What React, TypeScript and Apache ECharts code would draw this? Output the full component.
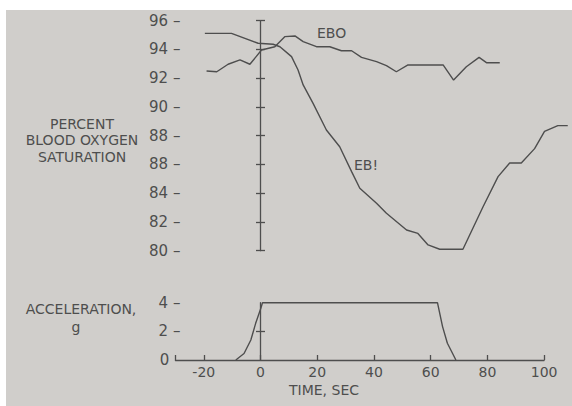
import React, { useEffect, useRef } from "react";
import * as echarts from "echarts";

// Time (sec) and percent blood-oxygen saturation, curve EBO
const eb0Time = [-19.0, -15.4, -11.4, -7.2, -3.7, 0.4, 5.1, 8.6, 12.2, 15.1, 19.8, 24.5, 28.6, 32.2, 35.7, 41.0, 44.5, 48.0, 52.1, 56.2, 64.5, 68.2, 72.7, 77.2, 79.8, 84.5];
const eb0Sat = [92.5, 92.45, 92.97, 93.27, 92.97, 93.96, 94.19, 94.89, 94.94, 94.54, 94.19, 94.19, 93.91, 93.91, 93.45, 93.15, 92.87, 92.45, 92.92, 92.92, 92.92, 91.87, 92.8, 93.45, 93.08, 93.08];

// Curve EB!
const eb1Time = [-19.6, -10.2, -0.8, 4.5, 6.9, 11.0, 13.3, 15.1, 18.6, 23.3, 28.0, 32.2, 35.1, 41.0, 44.5, 51.6, 55.6, 59.2, 63.3, 71.5, 78.6, 83.9, 88.0, 92.1, 96.8, 100.3, 105.0, 108.5];
const eb1Sat = [95.12, 95.12, 94.43, 94.36, 94.19, 93.5, 92.57, 91.53, 90.25, 88.4, 87.23, 85.5, 84.34, 83.3, 82.6, 81.44, 81.2, 80.4, 80.1, 80.1, 83.06, 85.15, 86.1, 86.1, 87.1, 88.3, 88.7, 88.7];

// Acceleration, g
const accTime = [-8.7, -5.8, -3.4, -1.7, 0.1, 0.7, 62.4, 64.2, 65.9, 68.9];
const accG = [0, 0.45, 1.4, 2.56, 3.6, 4, 4, 2.33, 1.17, 0];

// Tick labels (as printed, including the duplicated "88")
const satTickValues = [80, 82, 84, 86, 88, 90, 92, 94, 96];
const satTickLabels = ["80", "82", "84", "88", "88", "90", "92", "94", "96"];
const accTickValues = [0, 2, 4];
const timeTickValues = [-20, 0, 20, 40, 60, 80, 100];
const timeTickMarks = [-30, -20, 0, 20, 40, 60, 80, 100];

const INK = "#4e4e4e";
const FONT = "DejaVu Sans";

export default function App() {
  const ref = useRef<HTMLDivElement>(null);
  useEffect(() => {
    if (!ref.current) return;
    const chart = echarts.init(ref.current, null, { renderer: "svg" });
    const pairs = (xs: number[], ys: number[]) => xs.map((x, i) => [x, ys[i]]);
    const gridLeft = 175.4;
    const axisOffset = -(260.5 - gridLeft);
    const labelStyle = { color: INK, fontFamily: FONT, fontSize: 15 };
    const txt = (text: string, x: number, y: number, align = "center", size = 14) => ({
      type: "text", x, y, z: 10,
      style: { text, align, verticalAlign: "middle", fill: INK, font: `${size}px ${FONT}` },
    });

    chart.setOption({
      animation: false,
      backgroundColor: "#ffffff",
      graphic: [
        { type: "rect", z: -100, silent: true, shape: { x: 6, y: 10, width: 566, height: 396 }, style: { fill: "#d0cecb" } },
        txt("PERCENT", 82, 123.5),
        txt("BLOOD OXYGEN", 82, 140),
        txt("SATURATION", 82, 156.5),
        txt("ACCELERATION,", 81, 309),
        txt("g", 76, 327),
        txt("TIME, SEC", 289, 389.5, "left"),
        txt("EBO", 317, 33, "left"),
        txt("EB!", 354, 165, "left"),
      ],
      grid: [
        { left: gridLeft, top: 20.7, width: 397, height: 230 },
        { left: gridLeft, top: 302.7, width: 368.7, height: 57.3 },
      ],
      xAxis: [
        { type: "value", gridIndex: 0, min: -30, max: 110, show: false },
        {
          type: "value", gridIndex: 1, min: -30, max: 100,
          axisLine: { show: true, onZero: false, lineStyle: { color: INK, width: 1.3 } },
          axisTick: { show: true, inside: true, length: 5, customValues: timeTickMarks, lineStyle: { color: INK, width: 1.3 } },
          axisLabel: { show: true, customValues: timeTickValues, margin: 5, color: INK, fontFamily: FONT, fontSize: 14, lineHeight: 14, formatter: (v: number) => String(v) },
          splitLine: { show: false },
        },
      ],
      yAxis: [
        {
          type: "value", gridIndex: 0, min: 80, max: 96, interval: 2, position: "left",
          axisLine: { show: false }, axisTick: { show: false }, splitLine: { show: false },
          axisLabel: { margin: -5, ...labelStyle, formatter: (v: number) => satTickLabels[satTickValues.indexOf(v)] + " \u2013" },
        },
        {
          type: "value", gridIndex: 0, min: 80, max: 96, interval: 2, position: "left", offset: axisOffset,
          axisLine: { show: true, onZero: false, lineStyle: { color: INK, width: 1.3 } },
          axisTick: { show: true, length: 4.5, lineStyle: { color: INK, width: 1.3 } },
          axisLabel: { show: false }, splitLine: { show: false },
        },
        {
          type: "value", gridIndex: 0, min: 80, max: 96, interval: 2, position: "left", offset: axisOffset,
          axisLine: { show: false },
          axisTick: { show: true, inside: true, length: 4.5, lineStyle: { color: INK, width: 1.3 } },
          axisLabel: { show: false }, splitLine: { show: false },
        },
        {
          type: "value", gridIndex: 1, min: 0, max: 4, interval: 2, position: "left",
          axisLine: { show: false }, axisTick: { show: false }, splitLine: { show: false },
          axisLabel: {
            margin: -5, ...labelStyle,
            formatter: (v: number) => (v === accTickValues[0] ? "{z|" + v + "}" : v + " \u2013"),
            rich: { z: { ...labelStyle, padding: [0, 11, 0, 0] } },
          },
        },
        {
          type: "value", gridIndex: 1, min: 0, max: 4, interval: 2, position: "left", offset: axisOffset,
          axisLine: { show: true, onZero: false, lineStyle: { color: INK, width: 1.3 } },
          axisTick: { show: true, length: 4.5, customValues: [2], lineStyle: { color: INK, width: 1.3 } },
          axisLabel: { show: false }, splitLine: { show: false },
        },
        {
          type: "value", gridIndex: 1, min: 0, max: 4, interval: 2, position: "left", offset: axisOffset,
          axisLine: { show: false },
          axisTick: { show: true, inside: true, length: 4.5, customValues: [2], lineStyle: { color: INK, width: 1.3 } },
          axisLabel: { show: false }, splitLine: { show: false },
        },
      ],
      series: [
        { name: "EBO", type: "line", xAxisIndex: 0, yAxisIndex: 0, data: pairs(eb0Time, eb0Sat), showSymbol: false, symbol: "none", lineStyle: { color: INK, width: 1.4 } },
        { name: "EB!", type: "line", xAxisIndex: 0, yAxisIndex: 0, data: pairs(eb1Time, eb1Sat), showSymbol: false, symbol: "none", lineStyle: { color: INK, width: 1.4 } },
        { name: "Acceleration", type: "line", xAxisIndex: 1, yAxisIndex: 3, data: pairs(accTime, accG), showSymbol: false, symbol: "none", lineStyle: { color: INK, width: 1.4 } },
      ],
    });
    return () => chart.dispose();
  }, []);
  return (
    <div style={{ position: "fixed", left: 0, top: 0, width: 572, height: 406, background: "#fff" }}>
      <div ref={ref} style={{ width: 572, height: 406 }} />
    </div>
  );
}
